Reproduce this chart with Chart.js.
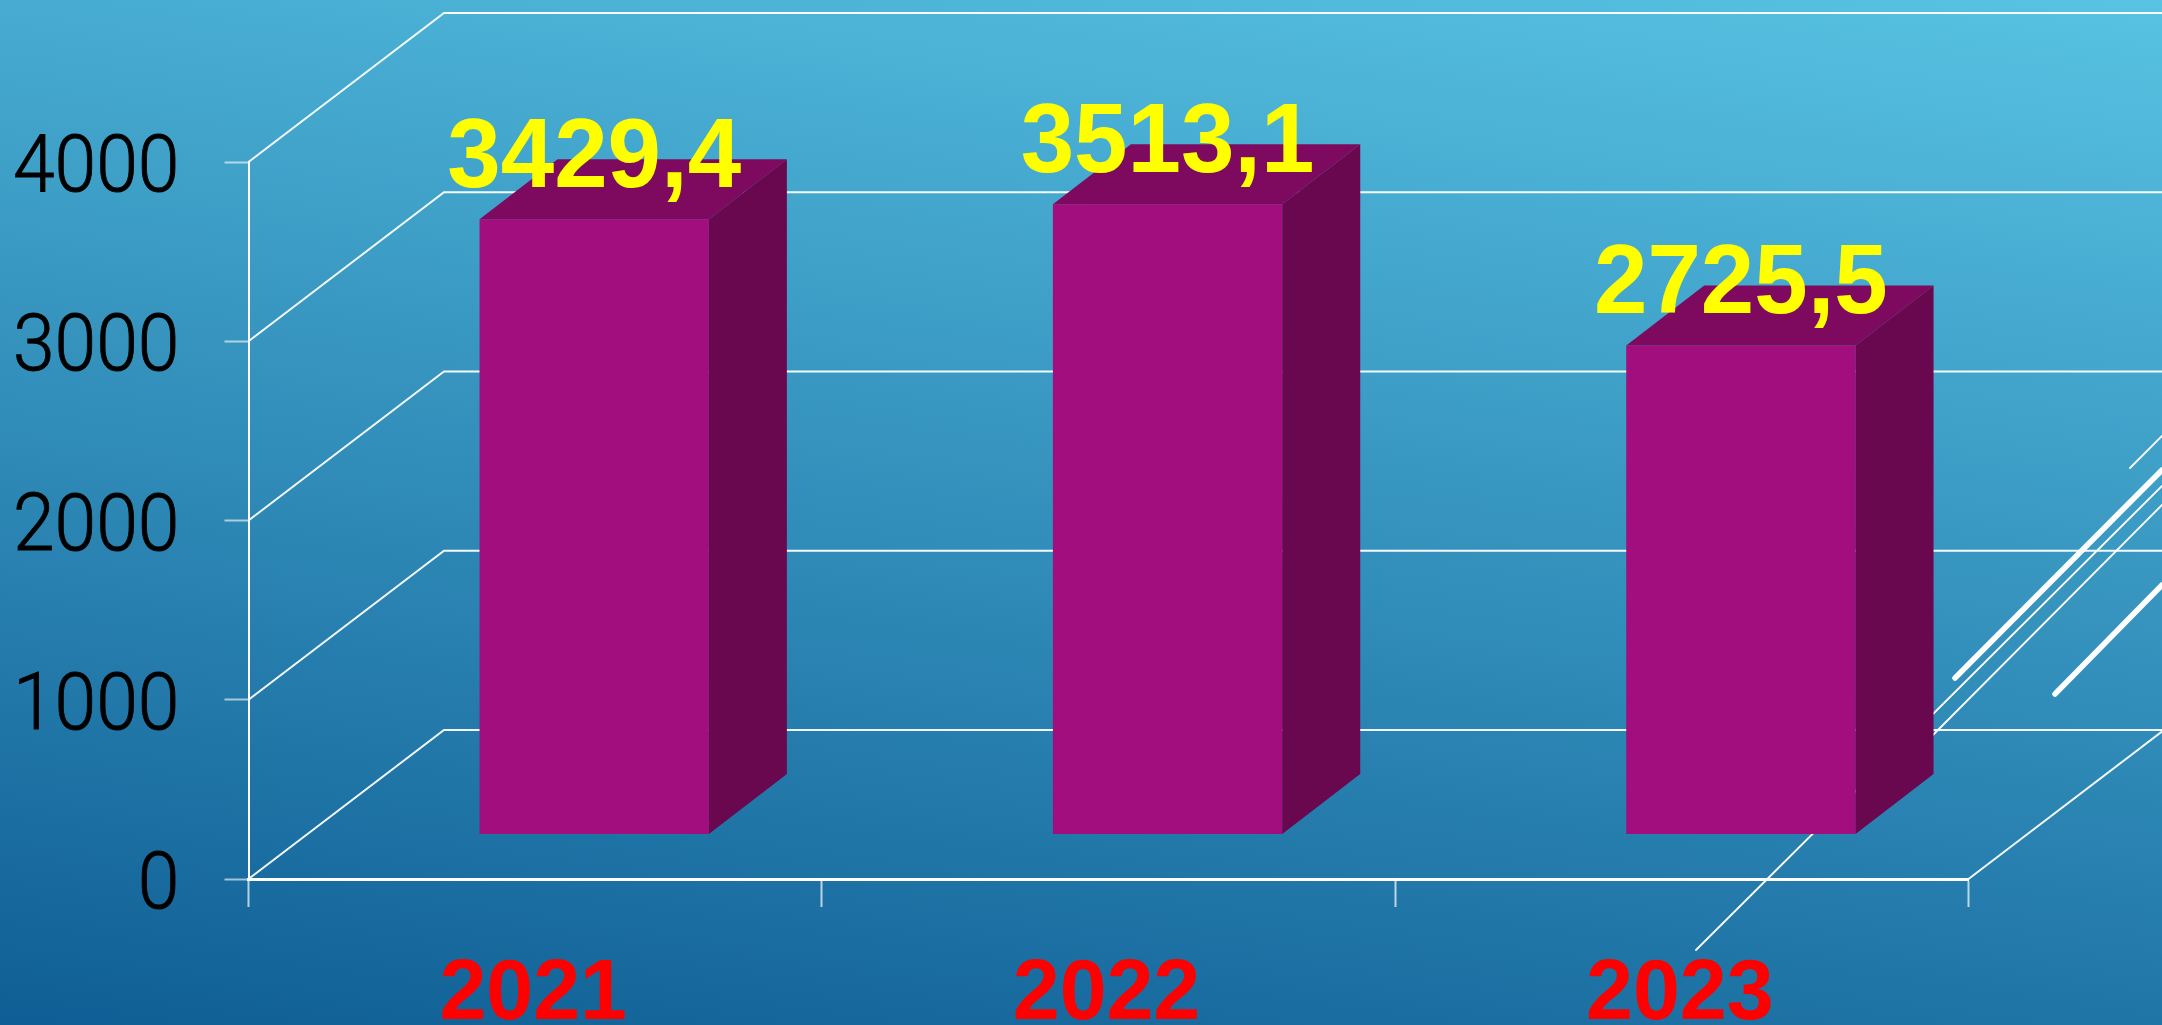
<!DOCTYPE html>
<html><head><meta charset="utf-8">
<style>
html,body{margin:0;padding:0;width:2162px;height:1025px;overflow:hidden;background:linear-gradient(188deg,#58C3E3 0%,#0F5E95 100%);}
#wrap{position:absolute;left:0;top:0;width:2162px;height:1025px;}
canvas{display:block}
</style>
<script src="https://cdn.jsdelivr.net/npm/chart.js@4"></script>
</head><body><div id="wrap"><canvas id="c" width="2162" height="1025"></canvas></div>
<script>
const categories = ['2021','2022','2023'];
const values = [3429.4,3513.1,2725.5];
const yTicks = [0,1000,2000,3000,4000];

const WALL_DX = 195.5, WALL_DY = -149;
const BAR_DX = 78, BAR_DY = -60;

function squeezedText(ctx,text,x,y,sx,align,stroke){
  ctx.save();
  ctx.translate(x,y);ctx.scale(sx,1);
  ctx.textAlign=align;ctx.textBaseline='alphabetic';
  ctx.fillText(text,0,0);
  if(stroke){ctx.lineWidth=stroke;ctx.strokeStyle=ctx.fillStyle;ctx.strokeText(text,0,0);}
  ctx.restore();
}

const wallPlugin = {
  id:'wall',
  beforeDatasetsDraw(chart){
    const {ctx,scales:{x,y}} = chart;
    const L=x.left,R=x.right;
    ctx.save();
    ctx.strokeStyle='rgba(255,255,255,0.95)';
    ctx.lineWidth=2;
    yTicks.forEach(t=>{
      const py=y.getPixelForValue(t);
      ctx.beginPath();
      ctx.moveTo(L,py);
      ctx.lineTo(L+WALL_DX,py+WALL_DY);
      ctx.lineTo(R+WALL_DX,py+WALL_DY);
      ctx.stroke();
    });
    const b=y.getPixelForValue(0);
    ctx.beginPath();ctx.moveTo(R,b);ctx.lineTo(R+WALL_DX,b+WALL_DY);ctx.stroke();
    // decorative slide streaks behind the chart
    ctx.strokeStyle='#fff';ctx.lineCap='round';
    [[1696,950,2162,486,1.8],[1925,743,2162,505,1.8],[1955,678,2162,470,5.5],[2055,694,2162,585,5.5],[2130,468,2162,436,1.8]].forEach(s=>{
      ctx.lineWidth=s[4];ctx.beginPath();ctx.moveTo(s[0],s[1]);ctx.lineTo(s[2],s[3]);ctx.stroke();
    });
    ctx.restore();
  },
  afterDatasetsDraw(chart){
    const {ctx,scales:{x,y}}=chart;
    const meta=chart.getDatasetMeta(0);
    ctx.save();
    meta.data.forEach(bar=>{
      const l=bar.x-bar.width/2,r=bar.x+bar.width/2,t=bar.y,b=bar.base;
      ctx.fillStyle='#7E0A5F';
      ctx.beginPath();ctx.moveTo(l,t);ctx.lineTo(l+BAR_DX,t+BAR_DY);ctx.lineTo(r+BAR_DX,t+BAR_DY);ctx.lineTo(r,t);ctx.closePath();ctx.fill();
      ctx.fillStyle='#6A084F';
      ctx.beginPath();ctx.moveTo(r,t);ctx.lineTo(r+BAR_DX,t+BAR_DY);ctx.lineTo(r+BAR_DX,b+BAR_DY);ctx.lineTo(r,b);ctx.closePath();ctx.fill();
    });
    // value labels
    ctx.fillStyle='#FFFF00';
    ctx.font='bold 98px "Liberation Sans"';
    meta.data.forEach((bar,i)=>{
      squeezedText(ctx,String(values[i]).replace('.',','),bar.x,bar.y-32,0.98,'center');
    });
    // axis labels, taken from the scales
    ctx.fillStyle='#000';
    ctx.font='300 79px Roboto';
    y.ticks.forEach((t,i)=>{
      squeezedText(ctx,String(t.value),179.5,y.getPixelForTick(i)+29,0.95,'right',0.9);
    });
    ctx.fillStyle='#FF0000';
    ctx.font='bold 86px "Liberation Sans"';
    x.ticks.forEach((t,i)=>{
      squeezedText(ctx,t.label,x.getPixelForTick(i)-2,1019,0.98,'center');
    });
    ctx.restore();
  }
};

new Chart(document.getElementById('c'),{
  type:'bar',
  data:{labels:categories,datasets:[{
    data:categories.map((c,i)=>({x:i,y:values[i]})),
    xAxisID:'xFront',yAxisID:'yFront',
    backgroundColor:'#A30E7E',borderWidth:0,
    categoryPercentage:1,barPercentage:0.4
  }]},
  options:{
    responsive:false,animation:false,
    layout:{padding:{top:162,right:193.5,left:0,bottom:0}},
    plugins:{legend:{display:false},title:{display:false},tooltip:{enabled:false}},
    scales:{
      x:{type:'category',axis:'x',labels:categories,offset:true,position:'bottom',
        afterFit(s){s.height=146;},
        grid:{display:true,offset:true,drawOnChartArea:false,drawTicks:true,tickLength:28,tickColor:'rgba(255,255,255,0.7)',tickWidth:2},
        border:{display:true,color:'#fff',width:3},
        ticks:{display:false}},
      y:{type:'linear',axis:'y',min:0,max:4000,position:'left',
        afterFit(s){s.width=248.5;},
        afterBuildTicks(s){s.ticks=yTicks.map(v=>({value:v}));},
        grid:{display:true,drawOnChartArea:false,drawTicks:true,tickLength:24,tickColor:'rgba(255,255,255,0.6)',tickWidth:2},
        border:{display:true,color:'#fff',width:2},
        ticks:{display:false}},
      xFront:{type:'linear',axis:'x',display:false,offset:false,min:-0.603,max:2.397,grid:{display:false},ticks:{stepSize:1,includeBounds:false}},
      yFront:{type:'linear',axis:'y',display:false,min:-251,max:3749,grid:{display:false}}
    }
  },
  plugins:[wallPlugin]
});
</script></body></html>
